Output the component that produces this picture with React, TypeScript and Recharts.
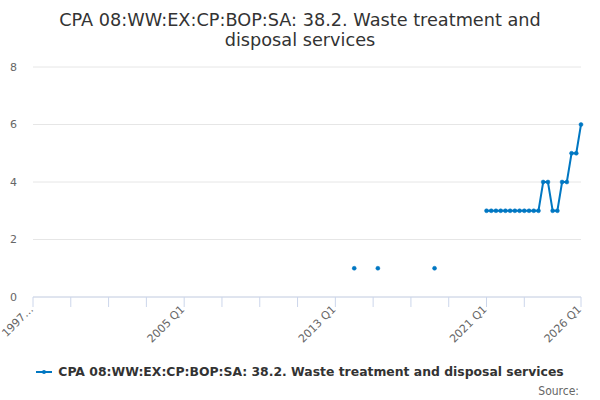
import React from 'react';
import { LineChart, Line, XAxis, YAxis, CartesianGrid } from 'recharts';

const TITLE = 'CPA 08:WW:EX:CP:BOP:SA: 38.2. Waste treatment and disposal services';
const SERIES_NAME = 'CPA 08:WW:EX:CP:BOP:SA: 38.2. Waste treatment and disposal services';
const LINE_COLOR = '#0077c2';

// quarterly categories 1997 Q1 .. 2026 Q1
const FIRST_YEAR = 1997;
const LAST_YEAR = 2026;
const quarters: string[] = [];
for (let y = FIRST_YEAR; y <= LAST_YEAR; y++) {
  for (let q = 1; q <= 4; q++) {
    if (y === LAST_YEAR && q > 1) break;
    quarters.push(`${y} Q${q}`);
  }
}

// observed values (everything else is missing)
const obsQuarters = [
  '2014 Q1', '2015 Q2', '2018 Q2',
  '2021 Q1', '2021 Q2', '2021 Q3', '2021 Q4',
  '2022 Q1', '2022 Q2', '2022 Q3', '2022 Q4',
  '2023 Q1', '2023 Q2', '2023 Q3', '2023 Q4',
  '2024 Q1', '2024 Q2', '2024 Q3', '2024 Q4',
  '2025 Q1', '2025 Q2', '2025 Q3', '2025 Q4',
  '2026 Q1',
];
const obsValues = [
  1, 1, 1,
  3, 3, 3, 3,
  3, 3, 3, 3,
  3, 3, 3, 3,
  4, 4, 3, 3,
  4, 4, 5, 5,
  6,
];

const tickQuarters = [
  '1997 Q1', '1999 Q1', '2001 Q1', '2003 Q1', '2005 Q1', '2007 Q1', '2009 Q1',
  '2011 Q1', '2013 Q1', '2015 Q1', '2017 Q1', '2019 Q1', '2021 Q1', '2023 Q1', '2026 Q1',
];
const labelledTicks: Record<string, string> = {
  '1997 Q1': '1997…',
  '2005 Q1': '2005 Q1',
  '2013 Q1': '2013 Q1',
  '2021 Q1': '2021 Q1',
  '2026 Q1': '2026 Q1',
};
const yTicks = [0, 2, 4, 6, 8];

const data = quarters.map((q) => {
  const i = obsQuarters.indexOf(q);
  return { quarter: q, value: i >= 0 ? obsValues[i] : null };
});

const FONT = '"DejaVu Sans", sans-serif';
const FONT_COND = '"DejaVu Sans Condensed", "DejaVu Sans", sans-serif';

const XTick = (props: any) => {
  const { x, y, payload } = props;
  const label = labelledTicks[payload.value];
  return (
    <g>
      <line x1={x} x2={x} y1={y - 8} y2={y + 2} stroke="#ccd6eb" strokeWidth={1} />
      {label && (
        <text
          transform={`translate(${x + 1},${y + 5}) rotate(-45)`}
          textAnchor="end"
          fontSize={11}
          fill="#666"
          fontFamily={FONT}
        >
          {label}
        </text>
      )}
    </g>
  );
};

export default function App() {
  return (
    <div style={{ position: 'absolute', left: 0, top: 0, width: 600, height: 400, background: '#fff', fontFamily: FONT }}>
      <div
        style={{
          position: 'absolute', left: 50, top: 10, width: 500, textAlign: 'center',
          fontSize: 17.7, lineHeight: '20px', color: '#333', fontFamily: FONT,
        }}
      >
        {TITLE}
      </div>
      <LineChart
        width={600}
        height={400}
        data={data}
        margin={{ top: 67, right: 19, left: 0, bottom: 43 }}
      >
        <CartesianGrid vertical={false} stroke="#e6e6e6" />
        <XAxis
          dataKey="quarter"
          ticks={tickQuarters}
          interval={0}
          tick={<XTick />}
          tickLine={false}
          axisLine={{ stroke: '#ccd6eb' }}
          height={60}
        />
        <YAxis
          width={33}
          domain={[0, 8]}
          ticks={yTicks}
          axisLine={false}
          tickLine={false}
          tickSize={0}
          tickMargin={16}
          tick={{ fontSize: 11, fill: '#666', fontFamily: FONT }}
        />
        <Line
          type="linear"
          dataKey="value"
          stroke={LINE_COLOR}
          strokeWidth={2}
          dot={{ r: 2, fill: LINE_COLOR, stroke: LINE_COLOR, strokeWidth: 0.5 }}
          activeDot={false}
          isAnimationActive={false}
        />
      </LineChart>
      <div
        style={{
          position: 'absolute', left: 0, top: 364, width: 600, display: 'flex',
          justifyContent: 'center', alignItems: 'center',
        }}
      >
        <svg width={16} height={10} style={{ marginRight: 6 }}>
          <line x1={0} x2={16} y1={5} y2={5} stroke={LINE_COLOR} strokeWidth={2} />
          <circle cx={8} cy={5} r={2} fill={LINE_COLOR} />
        </svg>
        <span style={{ fontSize: 12.4, fontWeight: 'bold', color: '#333' }}>{SERIES_NAME}</span>
      </div>
      <div style={{ position: 'absolute', right: 21, top: 384, fontSize: 12, color: '#666', fontFamily: FONT_COND }}>
        Source:
      </div>
    </div>
  );
}
